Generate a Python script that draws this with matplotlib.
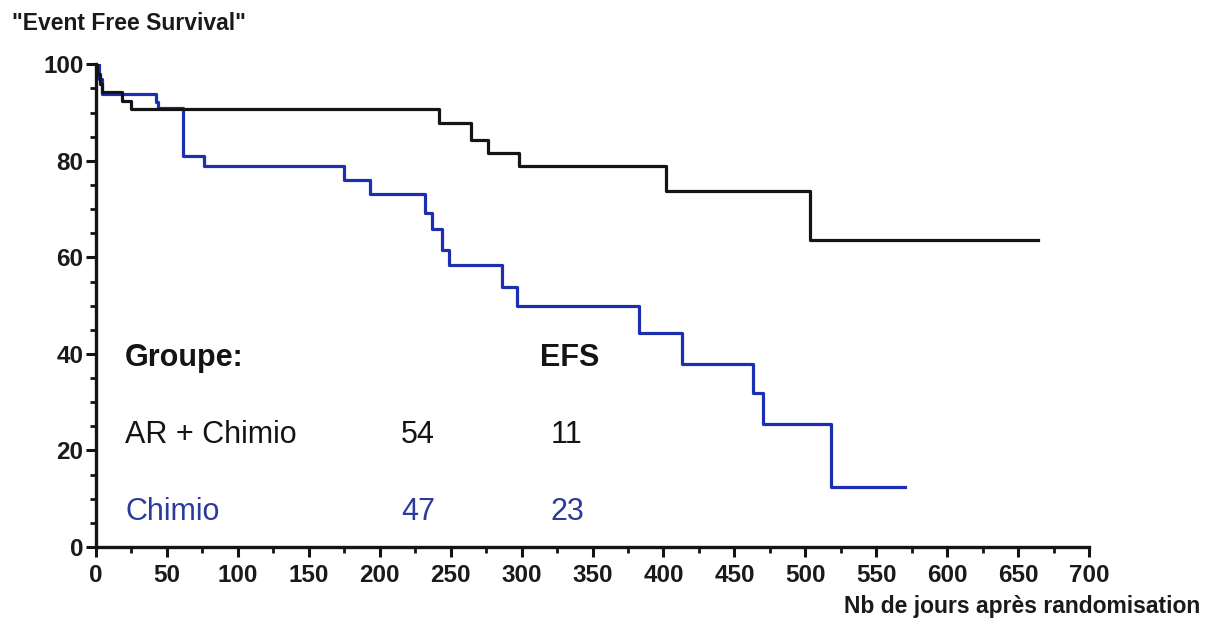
import matplotlib
matplotlib.use("Agg")
import matplotlib.pyplot as plt
from matplotlib.ticker import MultipleLocator

plt.rcParams['font.family'] = ['Liberation Sans', 'DejaVu Sans']

# Kaplan-Meier step data (days, % event free)
days_ar = [0, 1, 3, 4, 18, 25, 242, 264, 276, 298, 402, 503, 664]
efs_ar = [100, 98, 96, 94.3, 92.5, 90.8, 87.9, 84.4, 81.6, 78.9, 73.8, 63.5, 63.5]

days_chimio = [0, 2, 4, 42, 44, 61, 76, 175, 193, 232, 237, 244, 249, 286, 297,
               383, 413, 463, 470, 518, 570]
efs_chimio = [100, 97, 93.9, 92.2, 90.9, 81.1, 78.9, 76.1, 73.2, 69.2, 65.8, 61.6,
              58.4, 53.9, 49.9, 44.4, 38.0, 31.8, 25.4, 12.5, 12.5]

groups = ["AR + Chimio", "Chimio"]
n_patients = [54, 47]
n_efs = [11, 23]

x_ticks = list(range(0, 701, 50))
y_ticks = list(range(0, 101, 20))

BLUE_LINE = "#1c2fb0"
BLUE_TEXT = "#2c3a9c"
BLACK = "#141414"

fig = plt.figure(figsize=(12.08, 6.22), dpi=100)
ax = fig.add_axes([0.0795, 0.1206, 0.822, 0.776])

ax.step(days_chimio, efs_chimio, where="post", color=BLUE_LINE, lw=2.3, zorder=2)
ax.step(days_ar, efs_ar, where="post", color=BLACK, lw=2.3, zorder=3)

ax.set_xlim(0, 700)
ax.set_ylim(0, 100)
for s in ["top", "right"]:
    ax.spines[s].set_visible(False)
for s in ["left", "bottom"]:
    ax.spines[s].set_linewidth(2.4)
    ax.spines[s].set_color(BLACK)

ax.set_xticks(x_ticks)
ax.set_yticks(y_ticks)
ax.xaxis.set_minor_locator(MultipleLocator(25))
ax.yaxis.set_minor_locator(MultipleLocator(5))
ax.tick_params(axis="both", which="major", direction="out", length=7, width=2.2,
               color=BLACK, labelsize=17.5)
ax.tick_params(axis="x", which="major", pad=5)
ax.tick_params(axis="y", which="major", pad=2)
ax.tick_params(axis="both", which="minor", direction="out", length=4.5, width=2.0,
               color=BLACK)
for lab in ax.get_xticklabels() + ax.get_yticklabels():
    lab.set_fontweight("bold")
    lab.set_color("#1a1a1a")

# annotation table inside the plot
FS = 22
ax.text(20.5, 39.1, "Groupe:", fontsize=FS, fontweight="bold", color=BLACK,
        va="center", ha="left")
ax.text(334, 39.1, "EFS", fontsize=FS, fontweight="bold", color=BLACK,
        va="center", ha="center")
row_y = [23.2, 7.2]
row_c = [BLACK, BLUE_TEXT]
for g, n, e, yy, cc in zip(groups, n_patients, n_efs, row_y, row_c):
    ax.text(20.5, yy, g, fontsize=FS, color=cc, va="center", ha="left")
    ax.text(227, yy, str(n), fontsize=FS, color=cc, va="center", ha="center")
    ax.text(332, yy, str(e), fontsize=FS, color=cc, va="center", ha="center")

fig.text(12 / 1208, 1 - 24 / 622, "\"Event Free Survival\"", fontsize=16.5,
         fontweight="bold", color="#1a1a1a", ha="left", va="center")
fig.text(1200 / 1208, 1 - 607 / 622, "Nb de jours après randomisation",
         fontsize=16.5, fontweight="bold", color="#1a1a1a", ha="right", va="center")

fig.savefig("out.png", dpi=100, facecolor="white")
